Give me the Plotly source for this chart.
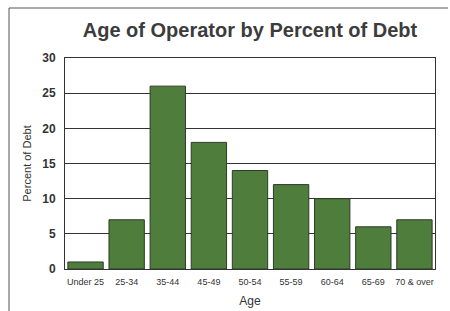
import plotly.graph_objects as go

categories = ["Under 25", "25-34", "35-44", "45-49", "50-54", "55-59", "60-64", "65-69", "70 & over"]
percent_debt = [1, 7, 26, 18, 14, 12, 10, 6, 7]
y_ticks = [0, 5, 10, 15, 20, 25, 30]

fig = go.Figure(go.Bar(
    x=categories, y=percent_debt,
    marker=dict(color="#4f7d3c", line=dict(color="#2e3a2a", width=1)),
))

L, R, T, B = 65, 15, 58, 42
PW, PH = 450 - L - R, 311 - T - B

fig.update_layout(
    width=450, height=311,
    margin=dict(l=L, r=R, t=T, b=B, autoexpand=False),
    paper_bgcolor="white", plot_bgcolor="white",
    bargap=0.14,
    showlegend=False,
    title=dict(text="Age of Operator by Percent of Debt", x=250 / 450, xanchor="center",
               y=1 - 30 / 311, yanchor="middle",
               font=dict(family="Liberation Sans, Arial", size=20, color="#3c3c3c", weight="bold")),
    xaxis=dict(
        automargin=False,
        tickfont=dict(family="Liberation Sans Narrow, Liberation Sans, Arial", size=9, color="#333"),
        ticklabelstandoff=4,
        title=dict(text="Age", font=dict(family="Liberation Sans, Arial", size=12, color="#333"), standoff=10),
        showline=True, linecolor="#333", linewidth=1, mirror=True, ticks="",
    ),
    yaxis=dict(
        automargin=False,
        range=[0, 30], tickvals=y_ticks,
        ticklabelstandoff=6,
        tickfont=dict(family="Liberation Sans Narrow, Liberation Sans, Arial", size=12, color="#333", weight="bold"),
        title=dict(text="Percent of Debt", font=dict(family="Liberation Sans, Arial", size=11, color="#333"), standoff=8),
        showgrid=True, gridcolor="#333", gridwidth=1,
        showline=True, linecolor="#333", linewidth=1, mirror=True, ticks="",
        zeroline=False,
    ),
    shapes=[
        dict(type="line", xref="paper", yref="paper", x0=(9 - L) / PW, x1=(448 - L) / PW,
             y0=(311 - B - 8) / PH, y1=(311 - B - 8) / PH, line=dict(color="#555", width=1)),
        dict(type="line", xref="paper", yref="paper", x0=(9 - L) / PW, x1=(9 - L) / PW,
             y0=(311 - B - 8) / PH, y1=-B / PH, line=dict(color="#555", width=1)),
    ],
)

fig.write_html("out.html", config={"displayModeBar": False},
               post_script="document.body.style.margin='0';document.body.style.overflow='hidden';")
